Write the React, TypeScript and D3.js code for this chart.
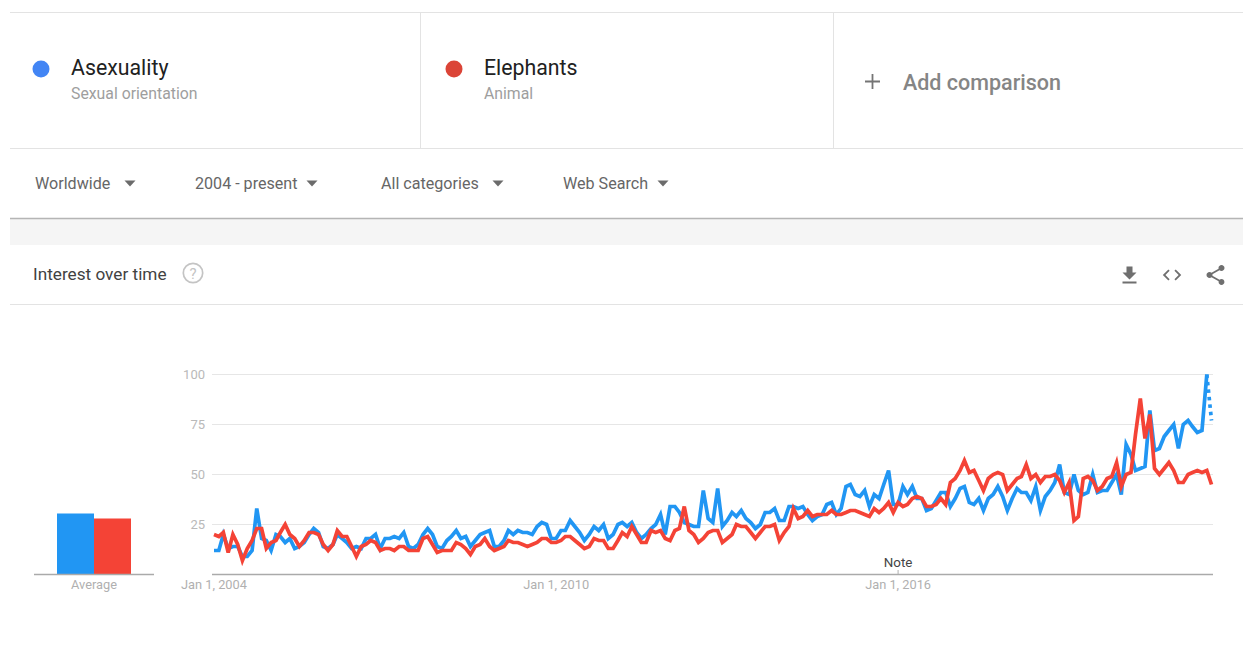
import React from "react";
import * as d3 from "d3";

// monthly interest values, Jan 2004 onwards
const asexuality = [
  12, 12, 20, 13, 14, 14, 9, 9, 12, 33,
  18, 17, 12, 20, 19, 16, 18, 13, 14, 16,
  20, 23, 21, 14, 13, 15, 20, 18, 16, 13,
  14, 13, 18, 18, 20, 13, 18, 18, 19, 18,
  21, 14, 13, 15, 20, 23, 20, 14, 13, 17,
  19, 22, 18, 19, 14, 17, 20, 21, 22, 14,
  14, 17, 22, 20, 22, 21, 21, 20, 24, 26,
  25, 18, 18, 22, 22, 27, 24, 21, 17, 20,
  24, 22, 25, 18, 20, 25, 26, 24, 26, 21,
  18, 20, 23, 25, 30, 20, 34, 34, 31, 26,
  25, 24, 24, 42, 28, 26, 43, 24, 27, 31,
  29, 32, 28, 26, 23, 25, 31, 31, 33, 27,
  27, 34, 34, 33, 34, 30, 27, 29, 30, 35,
  36, 30, 33, 44, 45, 40, 39, 42, 34, 40,
  38, 45, 52, 35, 35, 44, 40, 44, 38, 38,
  32, 33, 37, 41, 41, 34, 38, 43, 44, 36,
  35, 38, 32, 38, 40, 44, 39, 32, 38, 43,
  41, 41, 37, 44, 32, 39, 42, 46, 55, 41,
  40, 50, 42, 40, 41, 50, 41, 42, 42, 46,
  50, 40, 65, 60, 52, 53, 54, 82, 62, 63,
  69, 72, 75, 63, 75, 77, 74, 71, 72, 100,
  77,
];
const elephants = [
  20, 19, 21, 11, 20, 15, 7, 13, 17, 23,
  23, 13, 16, 17, 21, 25, 20, 18, 14, 17,
  21, 21, 20, 15, 12, 15, 22, 19, 19, 14,
  9, 14, 15, 17, 16, 12, 13, 13, 12, 14,
  14, 12, 12, 12, 18, 19, 15, 11, 12, 12,
  12, 16, 15, 13, 10, 14, 15, 18, 14, 12,
  13, 14, 17, 16, 16, 15, 14, 15, 16, 18,
  18, 16, 16, 17, 19, 19, 17, 15, 13, 14,
  18, 17, 17, 13, 13, 17, 21, 19, 24, 20,
  16, 16, 22, 21, 22, 18, 17, 22, 23, 34,
  22, 20, 16, 18, 21, 22, 22, 16, 18, 20,
  25, 24, 24, 21, 18, 21, 24, 24, 25, 17,
  21, 24, 33, 28, 29, 32, 29, 30, 30, 30,
  32, 30, 30, 31, 32, 32, 31, 30, 29, 33,
  31, 33, 36, 31, 36, 34, 35, 38, 39, 38,
  34, 34, 35, 38, 35, 46, 48, 52, 57, 51,
  52, 47, 42, 48, 50, 51, 50, 42, 45, 48,
  49, 55, 48, 50, 46, 49, 49, 50, 47, 41,
  46, 27, 29, 48, 49, 47, 42, 44, 48, 49,
  56, 44, 50, 51, 70, 88, 68, 80, 53, 50,
  53, 56, 52, 46, 46, 50, 51, 52, 51, 52,
  45,
];
const averageNames = ["Asexuality", "Elephants"];
const averageValues = [30.5, 28];
const yTicks = [25, 50, 75, 100];
const xTickYears = [2004, 2010, 2016];
const filters = ["Worldwide", "2004 - present", "All categories", "Web Search"];
const filterX = [35, 195, 381, 563];
const filterArrowX = [130, 312, 498, 663];

const W = 1243;
const H = 664;
const BLUE = "#2196F3";
const RED = "#F44336";
const FONT = "Roboto, sans-serif";

const months = d3.utcMonth.range(
  new Date(Date.UTC(2004, 0, 1)),
  new Date(Date.UTC(2021, 7, 1))
);

const x = d3
  .scaleUtc()
  .domain([months[0], months[months.length - 1]])
  .range([214, 1211.5]);
const y = d3.scaleLinear().domain([0, 100]).range([574.5, 374.5]);
const barX = d3
  .scaleBand<string>()
  .domain(averageNames)
  .range([57, 131])
  .padding(0);

const line = d3
  .line<number>()
  .x((_, i) => x(months[i]))
  .y((d) => y(d));

const fmtDate = (yr: number) => `Jan 1, ${yr}`;

function Term({ cx, color, name, sub }: { cx: number; color: string; name: string; sub: string }) {
  return (
    <g fontFamily={FONT}>
      <circle cx={cx} cy={69} r={8.5} fill={color} />
      <text x={cx + 30} y={75} fontSize={21.3} fill="#212121">
        {name}
      </text>
      <text x={cx + 30} y={99} fontSize={15.8} fill="#9e9e9e">
        {sub}
      </text>
    </g>
  );
}

export default function App() {
  const solidBlue = asexuality.slice(0, asexuality.length - 1);
  const lastIdx = asexuality.length - 1;

  return (
    <svg
      width={W}
      height={H}
      style={{ position: "fixed", left: 0, top: 0, display: "block", background: "#fff" }}
    >
      {/* search terms */}
      <g stroke="#e3e3e3" strokeWidth={1}>
        <line x1={10} x2={W} y1={12.5} y2={12.5} />
        <line x1={10} x2={W} y1={148.5} y2={148.5} />
        <line x1={420.5} x2={420.5} y1={12} y2={148} />
        <line x1={833.5} x2={833.5} y1={12} y2={148} />
      </g>
      <Term cx={41} color="#4285F4" name="Asexuality" sub="Sexual orientation" />
      <Term cx={454} color="#DB4437" name="Elephants" sub="Animal" />
      <path d="M865 81.5h15M872.5 74v15" stroke="#757575" strokeWidth={1.8} fill="none" />
      <text x={903} y={89.5} fontFamily={FONT} fontWeight={500} fontSize={21.5} fill="#858585">
        Add comparison
      </text>

      {/* filter row */}
      {filters.map((f, i) => (
        <g key={f}>
          <text x={filterX[i]} y={188.5} fontFamily={FONT} fontSize={16.1} fill="#666666">
            {f}
          </text>
          <path d={`M${filterArrowX[i] - 5.5} 180.5h11l-5.5 6z`} fill="#6b6b6b" />
        </g>
      ))}
      <rect x={10} y={219} width={W - 10} height={26} fill="#f5f5f5" />
      <line x1={10} x2={W} y1={218.5} y2={218.5} stroke="#b5b5b5" strokeWidth={1.5} />

      {/* card header */}
      <text x={33} y={280} fontFamily={FONT} fontSize={17.2} fill="#424242">
        Interest over time
      </text>
      <circle cx={193} cy={273} r={9.7} fill="none" stroke="#c4c4c4" strokeWidth={1.7} />
      <text x={193} y={278.5} textAnchor="middle" fontFamily={FONT} fontSize={15} fill="#c4c4c4">
        ?
      </text>
      <line x1={10} x2={W} y1={304.5} y2={304.5} stroke="#e3e3e3" />
      <g fill="#6f6f6f">
        <path transform="translate(1117.5,263.5)" d="M19 9h-4V3H9v6H5l7 7 7-7zM5 18v2h14v-2H5z" />
        <path
          transform="translate(1161,264) scale(0.92)"
          d="M9.4 16.6L4.8 12l4.6-4.6L8 6l-6 6 6 6 1.4-1.4zm5.2 0l4.6-4.6-4.6-4.6L16 6l6 6-6 6-1.4-1.4z"
        />
        <path
          transform="translate(1203.5,263)"
          d="M18 16.08c-.76 0-1.44.3-1.96.77L8.91 12.7c.05-.23.09-.46.09-.7s-.04-.47-.09-.7l7.05-4.11c.54.5 1.25.81 2.04.81 1.66 0 3-1.34 3-3s-1.34-3-3-3-3 1.34-3 3c0 .24.04.47.09.7L8.04 9.81C7.5 9.31 6.79 9 6 9c-1.66 0-3 1.34-3 3s1.34 3 3 3c.79 0 1.5-.31 2.04-.81l7.12 4.16c-.05.21-.08.43-.08.65 0 1.61 1.31 2.92 2.92 2.92 1.61 0 2.92-1.31 2.92-2.92s-1.31-2.92-2.92-2.92z"
        />
      </g>

      {/* average bars */}
      {averageNames.map((n, i) => (
        <rect
          key={n}
          x={barX(n)}
          y={y(averageValues[i])}
          width={barX.bandwidth()}
          height={y(0) - y(averageValues[i])}
          fill={i === 0 ? BLUE : RED}
        />
      ))}
      <line x1={34} x2={154} y1={y(0)} y2={y(0)} stroke="#aaaaaa" strokeWidth={1.3} />
      <text x={94} y={589} textAnchor="middle" fontFamily={FONT} fontSize={12.8} fill="#b0b0b0">
        Average
      </text>

      {/* grid and axes */}
      {yTicks.map((t) => (
        <g key={t}>
          <line x1={212} x2={1213} y1={y(t)} y2={y(t)} stroke="#e6e6e6" />
          <text x={205} y={y(t) + 4.5} textAnchor="end" fontFamily={FONT} fontSize={13} fill="#b9b9b9">
            {t}
          </text>
        </g>
      ))}
      <line x1={212} x2={1213} y1={y(0)} y2={y(0)} stroke="#aaaaaa" strokeWidth={1.3} />
      {xTickYears.map((yr) => (
        <text
          key={yr}
          x={x(new Date(Date.UTC(yr, 0, 1)))}
          y={589}
          textAnchor="middle"
          fontFamily={FONT}
          fontSize={12.8}
          fill="#b0b0b0"
        >
          {fmtDate(yr)}
        </text>
      ))}
      <line
        x1={x(new Date(Date.UTC(2016, 0, 1)))}
        x2={x(new Date(Date.UTC(2016, 0, 1)))}
        y1={570}
        y2={574}
        stroke="#b0b0b0"
      />
      <text
        x={x(new Date(Date.UTC(2016, 0, 1)))}
        y={567}
        textAnchor="middle"
        fontFamily={FONT}
        fontSize={13.4}
        fill="#444"
      >
        Note
      </text>

      {/* series */}
      <g fill="none" strokeWidth={3.7} strokeLinejoin="miter">
        <path d={line(solidBlue) ?? ""} stroke={BLUE} />
        <path
          d={`M${x(months[lastIdx - 1])},${y(asexuality[lastIdx - 1])}L${x(months[lastIdx])},${y(asexuality[lastIdx])}`}
          stroke={BLUE}
          strokeDasharray="3.5 4"
        />
        <path d={line(elephants) ?? ""} stroke={RED} />
      </g>
    </svg>
  );
}
